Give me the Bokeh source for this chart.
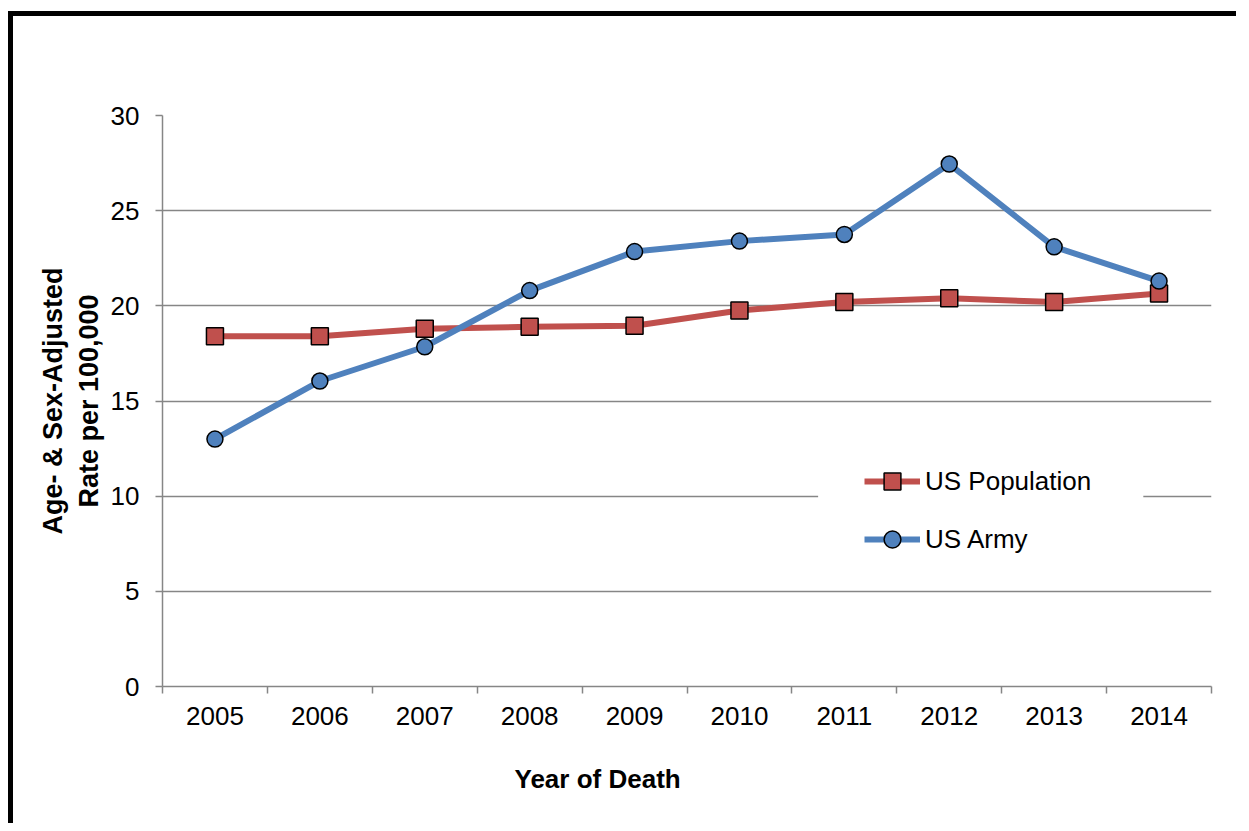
import numpy as np
from bokeh.plotting import figure
from bokeh.models import FixedTicker, Legend, LegendItem, Range1d, Title, BoxAnnotation
from bokeh.embed import file_html
from bokeh.resources import INLINE

years = ["2005", "2006", "2007", "2008", "2009", "2010", "2011", "2012", "2013", "2014"]
us_population = [18.4, 18.4, 18.8, 18.9, 18.95, 19.75, 20.2, 20.4, 20.2, 20.65]
us_army = [13.0, 16.05, 17.85, 20.8, 22.85, 23.4, 23.75, 27.45, 23.1, 21.3]
y_ticks = [0, 5, 10, 15, 20, 25, 30]

FONT = "Liberation Sans"
GRID = "#868686"
RED = "#C0504D"
BLUE = "#4F81BD"

n = len(years)
xpos = np.arange(n) + 0.5

p = figure(width=1228, height=812, output_backend="svg", toolbar_location=None,
           x_range=Range1d(0, n), y_range=Range1d(0, 30))
p.styles = {"border-left": "5px solid black", "border-top": "5px solid black",
            "margin-top": "11px", "margin-left": "8px"}
p.min_border_left = 149
p.min_border_top = 99
p.min_border_right = 30
p.min_border_bottom = 141
p.outline_line_color = None
p.background_fill_color = "white"
p.border_fill_color = "white"

# x axis
xa = p.xaxis[0]
xa.ticker = FixedTicker(ticks=list(xpos), minor_ticks=list(range(n + 1)))
xa.major_label_overrides = {float(x): y for x, y in zip(xpos, years)}
xa.major_tick_out = 0
xa.major_tick_in = 0
xa.minor_tick_out = 7
xa.minor_tick_in = 0
xa.minor_tick_line_color = GRID
xa.minor_tick_line_width = 1.5
xa.axis_line_color = GRID
xa.axis_line_width = 1.5
xa.major_label_text_font = FONT
xa.major_label_text_font_size = "26px"
xa.major_label_text_color = "black"
xa.major_label_standoff = 13

xtitle = Title(text="Year of Death", align="left", offset=352, standoff=69,
               text_font=FONT, text_font_size="26px", text_font_style="bold",
               text_color="black")
p.add_layout(xtitle, "below")

# y axis
ya = p.yaxis[0]
ya.ticker = FixedTicker(ticks=y_ticks)
ya.minor_tick_line_color = None
ya.major_tick_out = 7
ya.major_tick_in = 0
ya.major_tick_line_color = GRID
ya.major_tick_line_width = 1.5
ya.axis_line_color = GRID
ya.axis_line_width = 1.5
ya.major_label_text_font = FONT
ya.major_label_text_font_size = "26px"
ya.major_label_text_color = "black"
ya.major_label_standoff = 16
ya.axis_label = "Age- & Sex-Adjusted\nRate per 100,000"
ya.axis_label_text_font = FONT
ya.axis_label_text_font_size = "27px"
ya.axis_label_text_font_style = "bold"
ya.axis_label_text_color = "black"
ya.axis_label_standoff = 4

p.xgrid.grid_line_color = None
p.ygrid.grid_line_color = GRID
p.ygrid.grid_line_width = 1.5
p.ygrid.ticker = FixedTicker(ticks=y_ticks)

# white backing behind the legend (breaks the gridline like the original)
p.add_layout(BoxAnnotation(left=6.25, right=9.35, bottom=6.0, top=14.0,
                           fill_color="white", fill_alpha=1.0, line_color=None))

r1 = p.line(xpos, us_population, line_color=RED, line_width=6)
m1 = p.scatter(xpos, us_population, marker="square", size=17, fill_color=RED,
               line_color="black", line_width=1.5)
r2 = p.line(xpos, us_army, line_color=BLUE, line_width=6)
m2 = p.scatter(xpos, us_army, marker="circle", size=16, fill_color=BLUE,
               line_color="black", line_width=1.5)

legend = Legend(items=[LegendItem(label="US Population", renderers=[r1, m1]),
                       LegendItem(label="US Army", renderers=[r2, m2])],
                location=(702, 126))
legend.padding = 0
legend.margin = 0
legend.spacing = 16
legend.glyph_width = 56
legend.glyph_height = 42
legend.label_standoff = 5
legend.label_width = 196
legend.label_text_font = FONT
legend.label_text_font_size = "26px"
legend.label_text_color = "black"
legend.border_line_color = None
legend.background_fill_color = "white"
legend.background_fill_alpha = 1.0
p.add_layout(legend)

open("out.html", "w").write(file_html(p, INLINE))
